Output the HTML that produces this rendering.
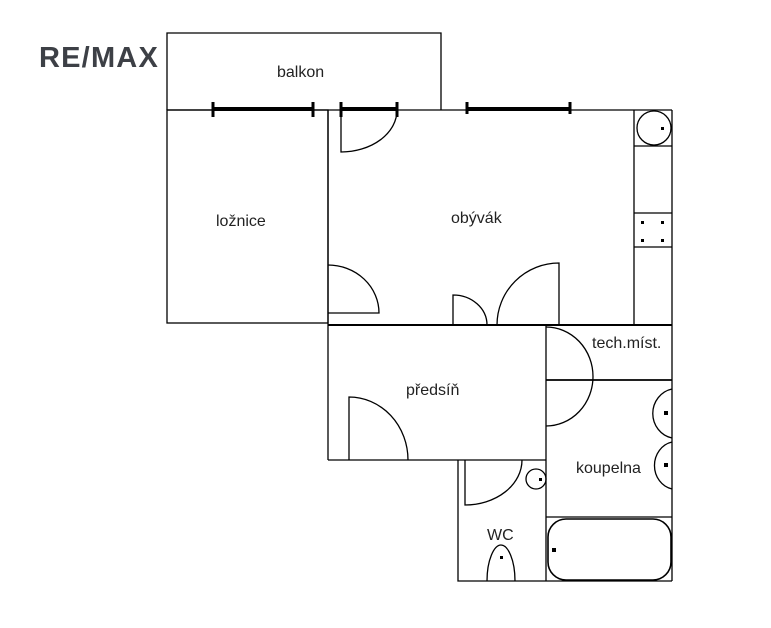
<!DOCTYPE html>
<html><head><meta charset="utf-8"><style>
html,body{margin:0;padding:0;background:#fff;}
svg{display:block}
text{font-family:"Liberation Sans",sans-serif;fill:#222}
</style></head><body>
<svg width="771" height="628" viewBox="0 0 771 628" xmlns="http://www.w3.org/2000/svg">
<rect width="771" height="628" fill="#fff"/>
<text x="39" y="67" style="font-size:29px;font-weight:bold;fill:#3d4046;letter-spacing:1.2px">RE/MAX</text>
<g fill="none" stroke="#000" stroke-width="1.3">
<polyline points="167,110 167,33 441,33 441,110"/>
<line x1="167" y1="110" x2="672" y2="110"/>
<rect x="167" y="110" width="161" height="213"/>
<line x1="328" y1="110" x2="328" y2="460"/>
<line x1="672" y1="110" x2="672" y2="581"/>
<line x1="634" y1="110" x2="634" y2="325"/>
<line x1="634" y1="146" x2="672" y2="146"/>
<line x1="634" y1="213" x2="672" y2="213"/>
<line x1="634" y1="247" x2="672" y2="247"/>
<circle cx="654" cy="128" r="17"/>
<line x1="328" y1="325" x2="672" y2="325" stroke-width="2"/>
<path d="M341,110 L341,152 A56,42 0 0 0 397,110"/>
<path d="M328,265 A51,48 0 0 1 379,313 L328,313"/>
<path d="M453,325 L453,295 A34,30 0 0 1 487,325"/>
<path d="M559,325 L559,263 A62,62 0 0 0 497,325"/>
<polyline points="328,460 546,460"/>
<line x1="546" y1="325" x2="546" y2="581"/>
<path d="M349,460 L349,397 A59,63 0 0 1 408,460"/>
<line x1="546" y1="380" x2="672" y2="380" stroke-width="1.8"/>
<path d="M546,327 A47,49.5 0 0 1 546,426"/>
<path d="M672,389 A24,25 0 0 0 672,438"/>
<path d="M672,442 A22,24 0 0 0 672,489"/>
<line x1="546" y1="517" x2="672" y2="517"/>
<rect x="548" y="519" width="123" height="61" rx="18" stroke-width="1.6"/>
<polyline points="458,460 458,581 672,581"/>
<path d="M465,460 L465,505 A57,45 0 0 0 522,460"/>
<circle cx="536" cy="479" r="10"/>
<path d="M487,581 C487,560 494,545 501,545 C508,545 515,560 515,581"/>
</g>
<g stroke="#000" stroke-width="4">
<line x1="213" y1="109" x2="313" y2="109"/>
<line x1="341" y1="109" x2="397" y2="109"/>
<line x1="467" y1="109" x2="570" y2="109"/>
</g>
<g stroke="#000" stroke-width="3">
<line x1="213" y1="102" x2="213" y2="117"/><line x1="313" y1="102" x2="313" y2="117"/>
<line x1="341" y1="102" x2="341" y2="117"/><line x1="397" y1="102" x2="397" y2="117"/>
<line x1="467" y1="102" x2="467" y2="114"/><line x1="570" y1="102" x2="570" y2="114"/>
</g>
<g fill="#000">
<rect x="661" y="127" width="3" height="3"/>
<rect x="641" y="221" width="3" height="3"/><rect x="661" y="221" width="3" height="3"/>
<rect x="641" y="239" width="3" height="3"/><rect x="661" y="239" width="3" height="3"/>
<rect x="664" y="411" width="4" height="4"/><rect x="664" y="463" width="4" height="4"/>
<rect x="552" y="548" width="4" height="4"/><rect x="539" y="478" width="3" height="3"/>
<rect x="500" y="556" width="3" height="3"/>
</g>
<g style="font-size:16px">
<text x="277" y="77">balkon</text>
<text x="216" y="226">ložnice</text>
<text x="451" y="223">obývák</text>
<text x="406" y="395">předsíň</text>
<text x="592" y="348">tech.míst.</text>
<text x="576" y="473">koupelna</text>
<text x="487" y="540">WC</text>
</g>
</svg>
</body></html>
